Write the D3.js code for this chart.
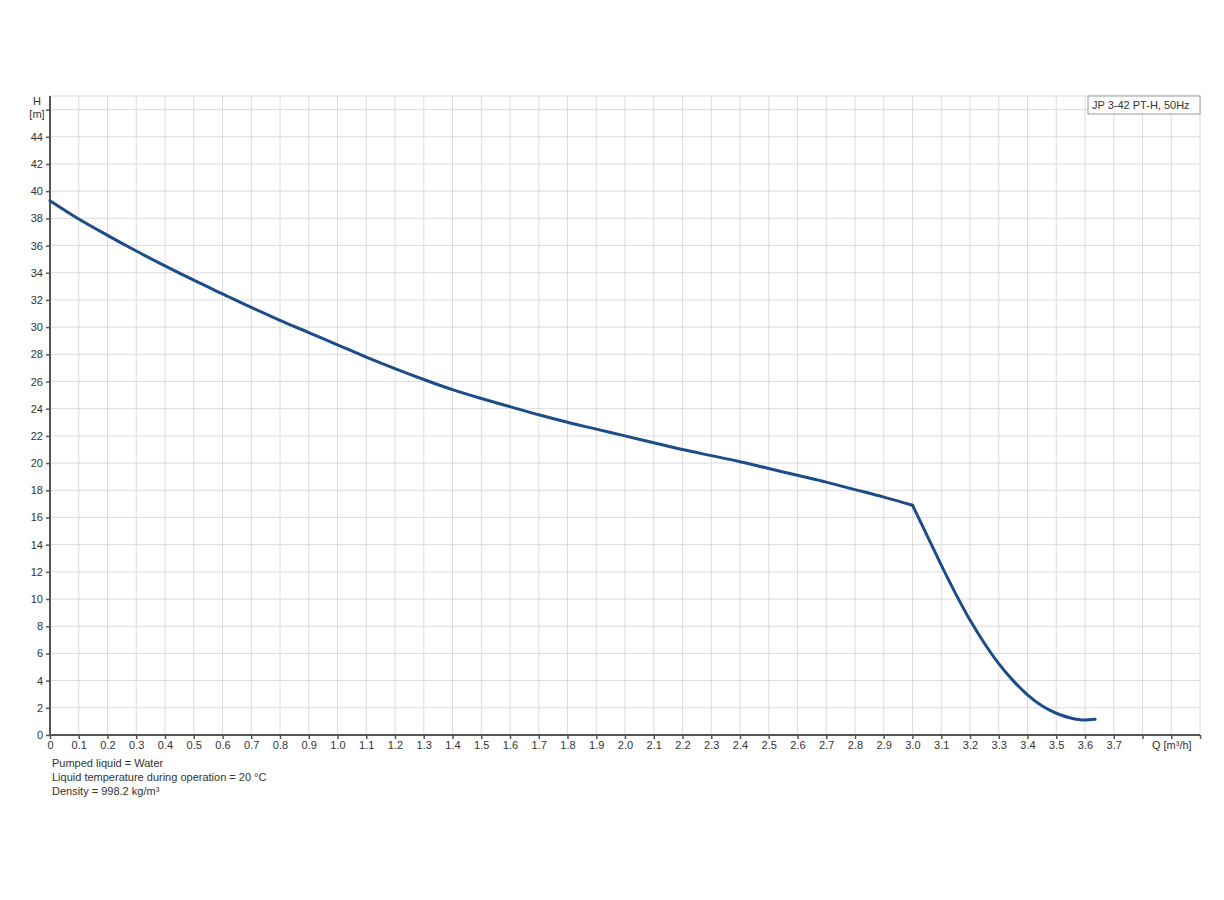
<!DOCTYPE html>
<html>
<head>
<meta charset="utf-8">
<script src="https://cdn.jsdelivr.net/npm/d3@7"></script>
<style>
    body { margin: 0; background: #fff; }
    svg text { font-family: "Liberation Sans", Arial, sans-serif; fill: #333; }
</style>
</head>
<body>
<div id="chart"></div>
<script>
/*global d3*/
// pump curve H(Q)
var flowHigh = [0, 0.1, 0.2, 0.3, 0.4, 0.5, 0.6, 0.7, 0.8, 0.9, 1.0, 1.1, 1.2, 1.3, 1.4, 1.5, 1.6, 1.7, 1.8, 1.9, 2.0, 2.1, 2.2, 2.3, 2.4, 2.5, 2.6, 2.7, 2.8, 2.9, 3.0];
var headHigh = [39.3, 37.95, 36.75, 35.6, 34.5, 33.45, 32.45, 31.45, 30.5, 29.6, 28.7, 27.8, 26.95, 26.15, 25.4, 24.75, 24.15, 23.55, 23.0, 22.5, 22.0, 21.5, 21.0, 20.55, 20.1, 19.6, 19.1, 18.6, 18.05, 17.5, 16.9];
var flowLow = [3.0, 3.05, 3.1, 3.15, 3.2, 3.25, 3.3, 3.35, 3.4, 3.45, 3.5, 3.55, 3.6, 3.635];
var headLow = [16.9, 14.7, 12.5, 10.4, 8.45, 6.75, 5.25, 4.0, 2.95, 2.15, 1.6, 1.25, 1.1, 1.15];

var xTicks = d3.range(0, 41).map(function (i) { return i / 10; });
var xTickLabels = xTicks.map(function (v) {
    if (v === 0) { return "0"; }
    if (v <= 3.7) { return v.toFixed(1); }
    if (v === 3.9) { return "Q [m\u00b3/h]"; }
    return "";
});
var yTicks = d3.range(0, 48, 2);
var yTickLabels = yTicks.map(function (v) { return v === 46 ? "" : String(v); });
var yTitle = ["H", "[m]"];
var pumpName = "JP 3-42 PT-H, 50Hz";
var notes = ["Pumped liquid = Water", "Liquid temperature during operation = 20 \u00b0C", "Density = 998.2 kg/m\u00b3"];

var width = 1224;
var height = 900;
var margin = { top: 96, right: 24, bottom: 165, left: 50 };
var plotW = width - margin.left - margin.right;
var plotH = height - margin.top - margin.bottom;

var x = d3.scaleLinear().domain([0, 4.0]).range([0, plotW]);
var y = d3.scaleLinear().domain([0, 47]).range([plotH, 0]);

var svg = d3.select("#chart").append("svg")
    .attr("width", width)
    .attr("height", height);
var g = svg.append("g").attr("transform", "translate(" + margin.left + "," + margin.top + ")");

// grid
g.append("g").selectAll("line").data(xTicks.slice(1)).enter().append("line")
    .attr("x1", function (d) { return x(d); })
    .attr("x2", function (d) { return x(d); })
    .attr("y1", 0).attr("y2", plotH)
    .attr("stroke", "#dcdcdc").attr("stroke-width", 1);
g.append("g").selectAll("line").data(yTicks.slice(1).concat([47])).enter().append("line")
    .attr("y1", function (d) { return y(d); })
    .attr("y2", function (d) { return y(d); })
    .attr("x1", 0).attr("x2", plotW)
    .attr("stroke", "#dcdcdc").attr("stroke-width", 1);

// axes
var xAxis = g.append("g")
    .attr("transform", "translate(0," + plotH + ")")
    .call(d3.axisBottom(x).tickValues(xTicks).tickSize(4).tickPadding(2)
        .tickFormat(function (d, i) { return xTickLabels[i]; }));
var yAxis = g.append("g")
    .call(d3.axisLeft(y).tickValues(yTicks).tickSize(4).tickPadding(3)
        .tickFormat(function (d, i) { return yTickLabels[i]; }));
[xAxis, yAxis].forEach(function (ax) {
    ax.select(".domain").attr("stroke", "#555").attr("stroke-width", 2);
    ax.selectAll(".tick line").attr("stroke", "#555").attr("stroke-width", 1.5);
    ax.selectAll(".tick text").attr("font-size", 11).attr("fill", "#333")
        .style("font-family", "'Liberation Sans', Arial, sans-serif");
});
xAxis.select(".domain").attr("d", "M0,0H" + plotW);
yAxis.select(".domain").attr("d", "M0," + plotH + "V0");

// axis title, stacked beside the top of the y axis
svg.append("g").selectAll("text").data(yTitle).enter().append("text")
    .attr("x", 37)
    .attr("y", function (d, i) { return 105 + i * 13; })
    .attr("text-anchor", "middle")
    .attr("font-size", 11)
    .text(function (d) { return d; });

// curve, drawn in two pieces so the knee at 3.0 stays sharp
var line = d3.line()
    .x(function (d) { return x(d[0]); })
    .y(function (d) { return y(d[1]); })
    .curve(d3.curveMonotoneX);
[d3.zip(flowHigh, headHigh), d3.zip(flowLow, headLow)].forEach(function (seg) {
    g.append("path")
        .datum(seg)
        .attr("fill", "none")
        .attr("stroke", "#1c4d88")
        .attr("stroke-width", 3)
        .attr("stroke-linejoin", "round")
        .attr("stroke-linecap", "round")
        .attr("d", line);
});

// pump name box
var box = svg.append("g").attr("transform", "translate(1088,96)");
box.append("rect")
    .attr("width", 112).attr("height", 18)
    .attr("fill", "#fff")
    .attr("stroke", "#9a9a9a").attr("stroke-width", 1);
box.append("text")
    .attr("x", 4).attr("y", 13)
    .attr("font-size", 11)
    .text(pumpName);

// liquid notes
svg.append("g").selectAll("text").data(notes).enter().append("text")
    .attr("x", 52)
    .attr("y", function (d, i) { return 767 + i * 14; })
    .attr("font-size", 11)
    .text(function (d) { return d; });
</script>
</body>
</html>
